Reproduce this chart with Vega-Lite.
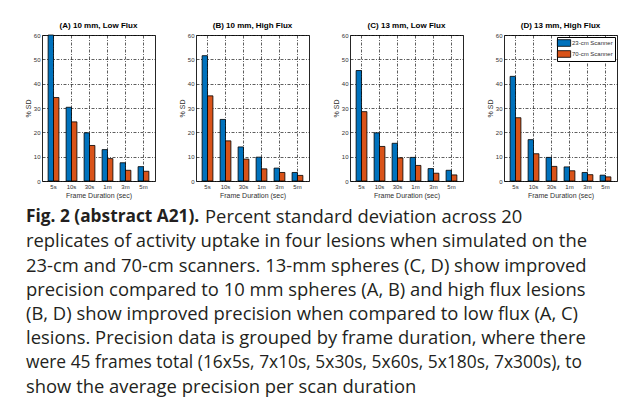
{
  "$schema": "https://vega.github.io/schema/vega-lite/v6.json",
  "padding": {"left": 17, "top": 21, "right": 0, "bottom": 0},
  "background": "white",
  "config": {
    "font": "Liberation Sans",
    "view": {"stroke": "#262626", "strokeWidth": 1},
    "axis": {"labelFontSize": 6, "labelColor": "#303030", "titleFontSize": 7, "titleFontWeight": "normal", "titleColor": "#303030", "domain": false, "ticks": false, "grid": true, "gridColor": "#000000", "gridDash": [3, 1.5, 1, 1.5], "gridWidth": 0.7, "gridOpacity": 0.9, "labelPadding": 2, "titlePadding": 2},
    "title": {"fontSize": 8, "fontWeight": "bold", "color": "#000000", "offset": 2}
  },
  "datasets": {
    "bars": [
      {"panel": "A", "duration": "5s", "scanner": "23-cm Scanner", "sd": 60},
      {"panel": "A", "duration": "5s", "scanner": "70-cm Scanner", "sd": 34.3},
      {"panel": "A", "duration": "10s", "scanner": "23-cm Scanner", "sd": 30.3},
      {"panel": "A", "duration": "10s", "scanner": "70-cm Scanner", "sd": 24.3},
      {"panel": "A", "duration": "30s", "scanner": "23-cm Scanner", "sd": 19.8},
      {"panel": "A", "duration": "30s", "scanner": "70-cm Scanner", "sd": 14.6},
      {"panel": "A", "duration": "1m", "scanner": "23-cm Scanner", "sd": 12.9},
      {"panel": "A", "duration": "1m", "scanner": "70-cm Scanner", "sd": 9.2},
      {"panel": "A", "duration": "3m", "scanner": "23-cm Scanner", "sd": 7.5},
      {"panel": "A", "duration": "3m", "scanner": "70-cm Scanner", "sd": 4.4},
      {"panel": "A", "duration": "5m", "scanner": "23-cm Scanner", "sd": 5.9},
      {"panel": "A", "duration": "5m", "scanner": "70-cm Scanner", "sd": 4.0},
      {"panel": "B", "duration": "5s", "scanner": "23-cm Scanner", "sd": 51.5},
      {"panel": "B", "duration": "5s", "scanner": "70-cm Scanner", "sd": 35.0},
      {"panel": "B", "duration": "10s", "scanner": "23-cm Scanner", "sd": 25.3},
      {"panel": "B", "duration": "10s", "scanner": "70-cm Scanner", "sd": 16.5},
      {"panel": "B", "duration": "30s", "scanner": "23-cm Scanner", "sd": 14.0},
      {"panel": "B", "duration": "30s", "scanner": "70-cm Scanner", "sd": 9.0},
      {"panel": "B", "duration": "1m", "scanner": "23-cm Scanner", "sd": 9.8},
      {"panel": "B", "duration": "1m", "scanner": "70-cm Scanner", "sd": 5.0},
      {"panel": "B", "duration": "3m", "scanner": "23-cm Scanner", "sd": 5.3},
      {"panel": "B", "duration": "3m", "scanner": "70-cm Scanner", "sd": 3.5},
      {"panel": "B", "duration": "5m", "scanner": "23-cm Scanner", "sd": 3.5},
      {"panel": "B", "duration": "5m", "scanner": "70-cm Scanner", "sd": 2.3},
      {"panel": "C", "duration": "5s", "scanner": "23-cm Scanner", "sd": 45.4},
      {"panel": "C", "duration": "5s", "scanner": "70-cm Scanner", "sd": 28.5},
      {"panel": "C", "duration": "10s", "scanner": "23-cm Scanner", "sd": 19.8},
      {"panel": "C", "duration": "10s", "scanner": "70-cm Scanner", "sd": 14.2},
      {"panel": "C", "duration": "30s", "scanner": "23-cm Scanner", "sd": 15.5},
      {"panel": "C", "duration": "30s", "scanner": "70-cm Scanner", "sd": 9.5},
      {"panel": "C", "duration": "1m", "scanner": "23-cm Scanner", "sd": 9.7},
      {"panel": "C", "duration": "1m", "scanner": "70-cm Scanner", "sd": 6.4},
      {"panel": "C", "duration": "3m", "scanner": "23-cm Scanner", "sd": 5.1},
      {"panel": "C", "duration": "3m", "scanner": "70-cm Scanner", "sd": 3.2},
      {"panel": "C", "duration": "5m", "scanner": "23-cm Scanner", "sd": 4.4},
      {"panel": "C", "duration": "5m", "scanner": "70-cm Scanner", "sd": 2.5},
      {"panel": "D", "duration": "5s", "scanner": "23-cm Scanner", "sd": 43.0},
      {"panel": "D", "duration": "5s", "scanner": "70-cm Scanner", "sd": 26.0},
      {"panel": "D", "duration": "10s", "scanner": "23-cm Scanner", "sd": 17.0},
      {"panel": "D", "duration": "10s", "scanner": "70-cm Scanner", "sd": 11.2},
      {"panel": "D", "duration": "30s", "scanner": "23-cm Scanner", "sd": 9.7},
      {"panel": "D", "duration": "30s", "scanner": "70-cm Scanner", "sd": 6.0},
      {"panel": "D", "duration": "1m", "scanner": "23-cm Scanner", "sd": 5.8},
      {"panel": "D", "duration": "1m", "scanner": "70-cm Scanner", "sd": 4.2},
      {"panel": "D", "duration": "3m", "scanner": "23-cm Scanner", "sd": 3.5},
      {"panel": "D", "duration": "3m", "scanner": "70-cm Scanner", "sd": 2.6},
      {"panel": "D", "duration": "5m", "scanner": "23-cm Scanner", "sd": 2.4},
      {"panel": "D", "duration": "5m", "scanner": "70-cm Scanner", "sd": 1.7}
    ],
    "caption": [
      {"line": 1, "style": "bold", "text": "Fig. 2 (abstract A21)."},
      {"line": 1, "style": "lead", "text": "Percent standard deviation across 20"},
      {"line": 2, "style": "plain", "text": "replicates of activity uptake in four lesions when simulated on the"},
      {"line": 3, "style": "plain", "text": "23-cm and 70-cm scanners. 13-mm spheres (C, D) show improved"},
      {"line": 4, "style": "plain", "text": "precision compared to 10 mm spheres (A, B) and high flux lesions"},
      {"line": 5, "style": "plain", "text": "(B, D) show improved precision when compared to low flux (A, C)"},
      {"line": 6, "style": "plain", "text": "lesions. Precision data is grouped by frame duration, where there"},
      {"line": 7, "style": "plain", "text": "were 45 frames total (16x5s, 7x10s, 5x30s, 5x60s, 5x180s, 7x300s), to"},
      {"line": 8, "style": "plain", "text": "show the average precision per scan duration"}
    ]
  },
  "spacing": 6,
  "vconcat": [
    {
      "spacing": 21,
      "resolve": {"scale": {"color": "independent"}},
      "hconcat": [
        {
          "width": 113, "height": 146,
          "title": "(A) 10 mm, Low Flux",
          "data": {"name": "bars"},
          "transform": [{"filter": "datum.panel == 'A'"}],
          "mark": {"type": "bar", "stroke": "#000000", "strokeWidth": 0.8},
          "encoding": {
            "x": {"field": "duration", "type": "nominal", "sort": ["5s", "10s", "30s", "1m", "3m", "5m"], "scale": {"paddingInner": 0.4, "paddingOuter": 0.34}, "axis": {"title": "Frame Duration (sec)", "labelAngle": 0, "bandPosition": 0.5}},
            "xOffset": {"field": "scanner", "type": "nominal", "sort": ["23-cm Scanner", "70-cm Scanner"], "scale": {"paddingInner": 0}},
            "y": {"field": "sd", "type": "quantitative", "scale": {"domain": [0, 60]}, "axis": {"title": [" ", "% SD"], "titleLineHeight": 6, "values": [0, 10, 20, 30, 40, 50, 60]}},
            "color": {"field": "scanner", "type": "nominal", "scale": {"domain": ["23-cm Scanner", "70-cm Scanner"], "range": ["#0072BD", "#D95319"]}, "legend": null}
          }
        },
        {
          "width": 113, "height": 146,
          "title": "(B) 10 mm, High Flux",
          "data": {"name": "bars"},
          "transform": [{"filter": "datum.panel == 'B'"}],
          "mark": {"type": "bar", "stroke": "#000000", "strokeWidth": 0.8},
          "encoding": {
            "x": {"field": "duration", "type": "nominal", "sort": ["5s", "10s", "30s", "1m", "3m", "5m"], "scale": {"paddingInner": 0.4, "paddingOuter": 0.34}, "axis": {"title": "Frame Duration (sec)", "labelAngle": 0, "bandPosition": 0.5}},
            "xOffset": {"field": "scanner", "type": "nominal", "sort": ["23-cm Scanner", "70-cm Scanner"], "scale": {"paddingInner": 0}},
            "y": {"field": "sd", "type": "quantitative", "scale": {"domain": [0, 60]}, "axis": {"title": "% SD", "values": [0, 10, 20, 30, 40, 50, 60]}},
            "color": {"field": "scanner", "type": "nominal", "scale": {"domain": ["23-cm Scanner", "70-cm Scanner"], "range": ["#0072BD", "#D95319"]}, "legend": null}
          }
        },
        {
          "width": 113, "height": 146,
          "title": "(C) 13 mm, Low Flux",
          "data": {"name": "bars"},
          "transform": [{"filter": "datum.panel == 'C'"}],
          "mark": {"type": "bar", "stroke": "#000000", "strokeWidth": 0.8},
          "encoding": {
            "x": {"field": "duration", "type": "nominal", "sort": ["5s", "10s", "30s", "1m", "3m", "5m"], "scale": {"paddingInner": 0.4, "paddingOuter": 0.34}, "axis": {"title": "Frame Duration (sec)", "labelAngle": 0, "bandPosition": 0.5}},
            "xOffset": {"field": "scanner", "type": "nominal", "sort": ["23-cm Scanner", "70-cm Scanner"], "scale": {"paddingInner": 0}},
            "y": {"field": "sd", "type": "quantitative", "scale": {"domain": [0, 60]}, "axis": {"title": "% SD", "values": [0, 10, 20, 30, 40, 50, 60]}},
            "color": {"field": "scanner", "type": "nominal", "scale": {"domain": ["23-cm Scanner", "70-cm Scanner"], "range": ["#0072BD", "#D95319"]}, "legend": null}
          }
        },
        {
          "width": 113, "height": 146,
          "title": "(D) 13 mm, High Flux",
          "data": {"name": "bars"},
          "transform": [{"filter": "datum.panel == 'D'"}],
          "mark": {"type": "bar", "stroke": "#000000", "strokeWidth": 0.8},
          "encoding": {
            "x": {"field": "duration", "type": "nominal", "sort": ["5s", "10s", "30s", "1m", "3m", "5m"], "scale": {"paddingInner": 0.4, "paddingOuter": 0.34}, "axis": {"title": "Frame Duration (sec)", "labelAngle": 0, "bandPosition": 0.5}},
            "xOffset": {"field": "scanner", "type": "nominal", "sort": ["23-cm Scanner", "70-cm Scanner"], "scale": {"paddingInner": 0}},
            "y": {"field": "sd", "type": "quantitative", "scale": {"domain": [0, 60]}, "axis": {"title": "% SD", "values": [0, 10, 20, 30, 40, 50, 60]}},
            "color": {"field": "scanner", "type": "nominal", "scale": {"domain": ["23-cm Scanner", "70-cm Scanner"], "range": ["#0072BD", "#D95319"]},
              "legend": {"orient": "top-right", "title": null, "offset": 2, "fillColor": "white", "strokeColor": "#000000", "padding": 2, "symbolType": "M-1.9,-0.95H1.9V0.95H-1.9Z", "symbolSize": 49, "symbolOffset": 1, "symbolStrokeColor": "#000000", "symbolStrokeWidth": 0.8, "labelFontSize": 6, "labelColor": "#303030", "rowPadding": 1, "labelOffset": 4, "cornerRadius": 0}}
          }
        }
      ]
    },
    {
      "width": 600, "height": 194,
      "view": {"stroke": null},
      "data": {"name": "caption"},
      "encoding": {
        "x": {"value": 0},
        "y": {"field": "line", "type": "ordinal", "axis": null},
        "text": {"field": "text"}
      },
      "layer": [
        {"transform": [{"filter": "datum.style == 'bold'"}], "mark": {"type": "text", "align": "left", "baseline": "middle", "font": "Open Sans", "fontSize": 17.3, "fontWeight": "bold", "color": "#231f20", "dx": -16}},
        {"transform": [{"filter": "datum.style == 'lead'"}], "mark": {"type": "text", "align": "left", "baseline": "middle", "font": "Open Sans", "fontSize": 18.4, "color": "#231f20", "dx": 163}},
        {"transform": [{"filter": "datum.style == 'plain' && datum.line != 7"}], "mark": {"type": "text", "align": "left", "baseline": "middle", "font": "Open Sans", "fontSize": 18.4, "color": "#231f20", "dx": -16}},
        {"transform": [{"filter": "datum.line == 7"}], "mark": {"type": "text", "align": "left", "baseline": "middle", "font": "Open Sans", "fontSize": 17.4, "color": "#231f20", "dx": -16}}
      ]
    }
  ]
}
